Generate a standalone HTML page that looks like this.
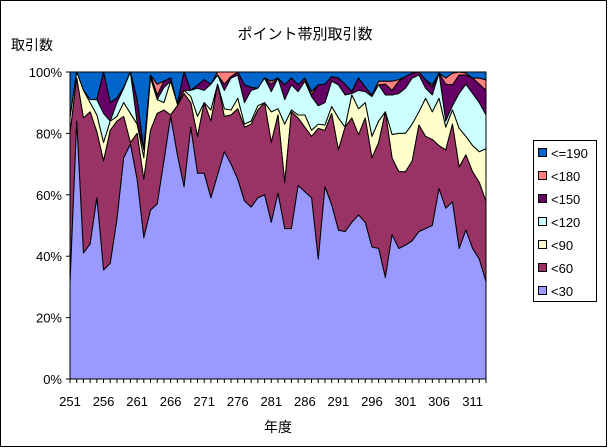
<!DOCTYPE html>
<html><head><meta charset="utf-8">
<style>
body{margin:0;background:#fff;}
svg{display:block;font-family:"Liberation Sans","Noto Sans CJK JP",sans-serif;}
</style></head>
<body>
<svg id="chart" width="608" height="448">
<rect x="0.5" y="0.5" width="606" height="446" fill="#fff" stroke="#000"/>
<text x="305" y="39" text-anchor="middle" font-size="15">ポイント帯別取引数</text>
<text x="11" y="50" font-size="14">取引数</text>
<text x="278" y="432" text-anchor="middle" font-size="14">年度</text>
<g id="plot"></g>
<g id="axes"></g>
<g id="legend"></g>
</svg>
<script>
// cumulative tops (%) per category, bottom series first
const startYear = 251;
const seriesNames = ["<30","<60","<90","<120","<150","<180","<=190"];
const seriesColors = ["#9999FF","#993366","#FFFFCC","#CCFFFF","#660066","#FF8080","#0066CC"];
const top30 = [31,84,41,44,59,35.5,37.7,52,72,76.5,65,46,55,57,71,85.5,73,62.6,82,67,67,59,66.5,74,70,65,58,56,59,60,51,60.5,49,49,63,61,59,39,62.6,56.7,48.5,48,51,53.4,51,43,42.5,33,47,42.5,43.6,45,48,49,50,62,55.6,57.7,42.5,48.5,42.5,39,31.7];
const top60 = [80,98,85,87,80.5,71,81,84,85.5,77,80,65,81,86.5,87.6,86,89,93,90,79,90,84,96,85.5,86,88,82,83,87.6,90,77,86,64,87,85,82,79,81.6,81,86.5,74.6,82,85,79.5,85,72,77,87,72,67.5,67.5,71,82.7,79,78,76,74.6,83,69,73,67.5,64,57.8];
const top90 = [85,100,94,90,86,77,84,85.5,90,86.5,83,72,98,91,90,97,89.5,94,92,85.5,90,87.6,96,88,87.6,91.4,83,84,89,90,87,88,83,87.6,86,86,81,83,82.7,88.7,85,82,92.5,88,90,79,84,87,79.6,80,80,83,87,91.4,87,91.4,82,87.6,81.6,79,76,74,75];
const top120 = [85,100,94,91,91,86.5,84,90,94.7,100,83.5,74.6,99,91,95,97,89.5,94,94,94.7,94,96,99,94,98,99,90,94,94.7,98,93.6,98,91,95.8,93.6,97,92,89,90,97,95.8,92.5,93,94,93.6,92,95.8,92.5,92.5,93,94.7,98,99,94.7,92.5,99.6,84,89,93,96,93,90,86];
const top150 = [85,100,94,91,91,100,90,91.5,95,100,91,74.6,99,92.5,97,98,89.5,100,94,95.7,97.5,96,99,96,98.5,100,95.8,95,94.7,98,96,98,95.8,98,95.8,98,92.5,95.8,96,98.5,98,96,93.6,98,95,92.5,95.8,96,94,97,98.5,99.6,100,97.4,95,99.6,96,95.8,99,99,98,96,94];
const top180 = [85,100,94,91,91,100,90,91.5,95,100,91,74.6,99,96,97,98,89.5,100,94,95.7,97.5,96,100,100,100,100,95.8,95,94.7,98,97,98,95.8,98,95.8,98,93.6,95.8,96,98.5,98,96,93.6,98,95,92.5,97,97,97,97.5,98.5,99.6,100,97.4,95.8,99.6,98,99.6,100,99.6,98,98,97.4];
const top190 = top30.map(() => 100);
const xTickLabels = ["251","256","261","266","271","276","281","286","291","296","301","306","311"];
const yTickLabels = ["0%","20%","40%","60%","80%","100%"];

const NS = "http://www.w3.org/2000/svg";
const L = 70, R = 486, T = 72, B = 379;
const n = top30.length;
function xPos(i){ return L + i * (R - L) / (n - 1); }
function yPos(v){ return B - v / 100 * (B - T); }
function mk(tag, attrs, parent){ const e = document.createElementNS(NS, tag); for (const k in attrs) e.setAttribute(k, attrs[k]); parent.appendChild(e); return e; }

const plot = document.getElementById("plot");
const axes = document.getElementById("axes");
const legend = document.getElementById("legend");
mk("rect", {x:L, y:T, width:R-L, height:B-T, fill:"#fff"}, plot);
const tops = [top30, top60, top90, top120, top150, top180, top190];
for (let k = tops.length - 1; k >= 0; k--) {
  const up = tops[k], lo = k > 0 ? tops[k-1] : null;
  let d = "";
  for (let i = 0; i < n; i++) d += (i ? "L" : "M") + xPos(i).toFixed(2) + "," + yPos(up[i]).toFixed(2);
  for (let i = n - 1; i >= 0; i--) d += "L" + xPos(i).toFixed(2) + "," + yPos(lo ? lo[i] : 0).toFixed(2);
  d += "Z";
  const p = mk("path", {d:d, fill:seriesColors[k], stroke:"#000", "stroke-width":"1", "stroke-linejoin":"round"}, plot);
  
  
}
mk("rect", {x:L, y:T, width:R-L, height:B-T, fill:"none", stroke:"#000"}, axes);
// y ticks
for (let j = 0; j < yTickLabels.length; j++) {
  const y = yPos(j * 20);
  mk("line", {x1:L-4, y1:y, x2:L, y2:y, stroke:"#000"}, axes);
  const t = mk("text", {x:L-8, y:y+5, "text-anchor":"end", "font-size":"13"}, axes);
  t.textContent = yTickLabels[j];
  
  
}
// x ticks
for (let i = 0; i < n; i++) mk("line", {x1:xPos(i), y1:B, x2:xPos(i), y2:B+4, stroke:"#000"}, axes);
for (let j = 0; j < xTickLabels.length; j++) {
  const idx = parseInt(xTickLabels[j]) - startYear;
  const t = mk("text", {x:xPos(idx), y:406, "text-anchor":"middle", "font-size":"13"}, axes);
  t.textContent = xTickLabels[j];
  
  
}
// legend
mk("rect", {x:533.5, y:140.5, width:63, height:161, fill:"#fff", stroke:"#000"}, legend);
for (let k = 0; k < seriesNames.length; k++) {
  const cy = 153 + (seriesNames.length - 1 - k) * 23;
  const g = mk("g", {}, legend);
  
  
  mk("rect", {x:538.5, y:cy-4.5, width:8, height:8, fill:seriesColors[k], stroke:"#000"}, g);
  const t = mk("text", {x:551, y:cy+5, "font-size":"13"}, g);
  t.textContent = seriesNames[k];
}
</script>
</body></html>
